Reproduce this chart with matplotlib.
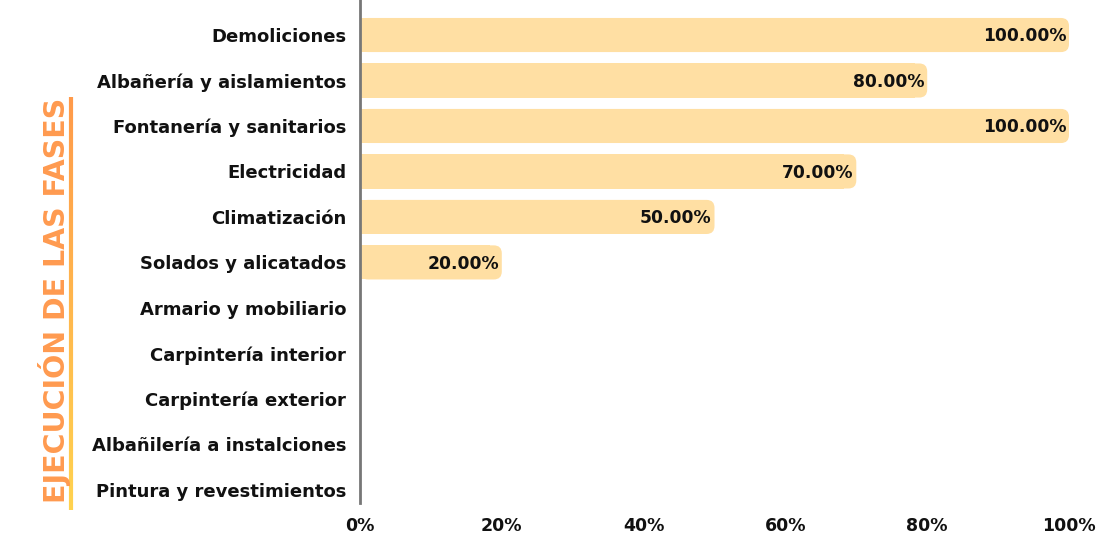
import matplotlib.pyplot as plt
import numpy as np
from matplotlib.patches import FancyBboxPatch
from matplotlib.collections import LineCollection
from matplotlib.colors import LinearSegmentedColormap

fases = ["Demoliciones", "Albañería y aislamientos", "Fontanería y sanitarios",
         "Electricidad", "Climatización", "Solados y alicatados",
         "Armario y mobiliario", "Carpintería interior", "Carpintería exterior",
         "Albañilería a instalciones", "Pintura y revestimientos"]
avance = [100, 80, 100, 70, 50, 20, 0, 0, 0, 0, 0]
xticks = [0, 20, 40, 60, 80, 100]

plt.rcParams['font.family'] = ['DejaVu Sans']
fig = plt.figure(figsize=(11, 5.5), dpi=100)
ax = fig.add_axes([360 / 1100, 1 - 503 / 550, 709 / 1100, 503 / 550])

color_barra = '#FFDFA3'
alto = 0.75
y = np.arange(len(fases))

# pixel -> data conversion for the rounded ends
px_x = 100 / 709
px_y = 1 / 45.5
radio = 8

for i, v in enumerate(avance):
    if v <= 0:
        continue
    r = radio * px_x
    ax.barh(i, v - r * 1.5, height=alto, color=color_barra, linewidth=0)
    caja = FancyBboxPatch((0, i - alto / 2), v, alto,
                          boxstyle="round,pad=0,rounding_size=%f" % r,
                          mutation_aspect=(radio * px_y) / r,
                          facecolor=color_barra, edgecolor='none')
    ax.add_patch(caja)
    ax.text(v - 0.4, i + 0.03, "%.2f%%" % v, ha='right', va='center',
            fontsize=12.3, fontweight='bold', color='#111111')

ax.set_xlim(0, 100)
ax.set_ylim(10.29, -0.77)
ax.set_yticks(y)
ax.set_yticklabels(fases, fontsize=13, fontweight='bold', color='#111111')
ax.set_xticks(xticks)
ax.set_xticklabels(["%d%%" % t for t in xticks], fontsize=12.5, fontweight='bold', color='#111111')
ax.tick_params(length=0)
ax.tick_params(axis='y', pad=10)
ax.tick_params(axis='x', pad=10)
for s in ['top', 'right', 'bottom']:
    ax.spines[s].set_visible(False)
ax.spines['left'].set_color('#777777')
ax.spines['left'].set_linewidth(2)

# titulo vertical con linea degradada
fig.text(55 / 1100, 1 - 300 / 550, "EJECUCIÓN DE LAS FASES", rotation=90,
         ha='center', va='center', fontsize=20.5, fontweight='bold', color='#FF9A4F')
cmap = LinearSegmentedColormap.from_list('deg', ['#FF9A4A', '#FFD24F'])
ys = np.linspace(1 - 97 / 550, 1 - 510 / 550, 60)
xs = np.full_like(ys, 71 / 1100)
pts = np.array([xs, ys]).T.reshape(-1, 1, 2)
segs = np.concatenate([pts[:-1], pts[1:]], axis=1)
lc = LineCollection(segs, cmap=cmap, linewidth=3, transform=fig.transFigure)
lc.set_array(np.linspace(0, 1, len(segs)))
fig.add_artist(lc)

fig.savefig('out.png', dpi=100, facecolor='white')
